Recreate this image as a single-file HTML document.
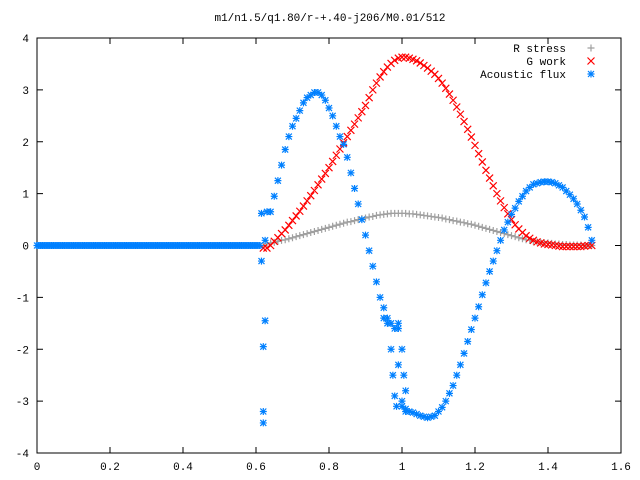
<!DOCTYPE html>
<html><head><meta charset="utf-8"><style>
body{margin:0;background:#fff}
svg{display:block}
text{font-family:"Liberation Mono",monospace;font-size:11px;fill:#000}
</style></head><body>
<svg id="chart" width="640" height="480" viewBox="0 0 640 480" xmlns="http://www.w3.org/2000/svg">
<text x="330" y="21" text-anchor="middle">m1/n1.5/q1.80/r-+.40-j206/M0.01/512</text>
<g id="axes"></g>
<g id="marks"></g>
<g id="legend"></g>
</svg>
<script>
const xTicks=[0,0.2,0.4,0.6,0.8,1,1.2,1.4,1.6];
const xTickLabels=["0","0.2","0.4","0.6","0.8","1","1.2","1.4","1.6"];
const yTicks=[-4,-3,-2,-1,0,1,2,3,4];
const yTickLabels=["-4","-3","-2","-1","0","1","2","3","4"];
const xValues=Array.from({length:91},(_,i)=>+(0.62+i*0.01).toFixed(2));
const rStress=[0,0.03,0.05,0.06,0.08,0.10,0.11,0.13,0.15,0.17,
0.19,0.21,0.23,0.25,0.27,0.29,0.31,0.33,0.35,0.37,
0.39,0.41,0.43,0.45,0.46,0.48,0.50,0.52,0.53,0.55,
0.56,0.58,0.59,0.60,0.61,0.62,0.62,0.62,0.62,0.62,
0.61,0.61,0.60,0.59,0.58,0.57,0.56,0.55,0.54,0.53,
0.51,0.50,0.48,0.47,0.45,0.44,0.42,0.41,0.39,0.37,
0.35,0.33,0.31,0.29,0.27,0.25,0.23,0.21,0.19,0.17,
0.15,0.13,0.11,0.10,0.08,0.07,0.06,0.05,0.05,0.04,
0.03,0.03,0.02,0.02,0.01,0.01,0.01,0.01,0,0,0];
const gWork=[-0.05,-0.05,0.0,0.08,0.15,0.23,0.3,0.39,0.48,0.57,
0.66,0.76,0.86,0.96,1.06,1.17,1.28,1.39,1.5,1.62,
1.74,1.86,1.98,2.1,2.22,2.34,2.46,2.58,2.7,2.85,
3.0,3.13,3.25,3.35,3.44,3.51,3.57,3.61,3.63,3.63,3.61,
3.59,3.56,3.52,3.47,3.42,3.36,3.3,3.22,3.13,3.03,
2.92,2.8,2.67,2.53,2.39,2.24,2.09,1.93,1.77,1.61,
1.45,1.3,1.15,1.0,0.86,0.73,0.61,0.5,0.4,0.32,
0.25,0.19,0.14,0.1,0.07,0.05,0.03,0.02,
0.01,0,-0.01,-0.02,-0.02,-0.02,-0.02,-0.02,-0.02,-0.01,0,0];
const fluxX=Array.from({length:89},(_,i)=>+(0.64+i*0.01).toFixed(2));
const acousticFlux=[0.65,0.95,1.25,1.55,1.85,2.1,2.3,2.45,2.6,2.75,
2.85,2.9,2.95,2.95,2.9,2.8,2.65,2.5,2.3,2.1,
1.95,1.7,1.4,1.1,0.8,0.5,0.2,-0.1,-0.4,-0.7,
-1.0,-1.2,-1.4,-1.5,-1.6,-2.3,-3.1,-3.15,-3.2,-3.22,
-3.25,-3.28,-3.3,-3.32,-3.3,-3.28,-3.2,-3.12,-3.0,-2.85,
-2.7,-2.5,-2.3,-2.08,-1.85,-1.62,-1.4,-1.18,-0.95,-0.72,
-0.5,-0.3,-0.1,0.1,0.3,0.45,0.6,0.72,0.85,0.95,
1.05,1.12,1.18,1.2,1.22,1.23,1.23,1.22,1.2,1.16,
1.12,1.05,0.98,0.9,0.8,0.68,0.55,0.35,0.1];
const fluxExtraX=[0.615,0.62,0.625,0.62,0.62,0.615,0.63,0.625,0.95,0.96,0.97,0.975,0.98,0.985,0.99,1.0,1.005,1.01,1.0,0.99,1.01];
const fluxExtraY=[-0.3,-1.95,-1.45,-3.2,-3.42,0.62,0.65,0.1,-1.4,-1.5,-2.0,-2.5,-2.9,-3.1,-1.6,-2.0,-2.5,-2.8,-3.0,-1.5,-3.2];
const zeroFluxX=[];for(let i=0;i<=122;i++)zeroFluxX.push(i*0.005);

const L=37,R=621,T=38,B=453;
const sx=v=>L+(v-0)/1.6*(R-L);
const sy=v=>B-(v+4)/8*(B-T);
const NS="http://www.w3.org/2000/svg";
function mk(tag,attrs,parent){const e=document.createElementNS(NS,tag);for(const k in attrs)e.setAttribute(k,attrs[k]);parent.appendChild(e);return e;}
const axes=document.getElementById('axes'),marks=document.getElementById('marks'),leg=document.getElementById('legend');
const frame=mk('rect',{x:L,y:T,width:R-L,height:B-T,fill:'none',stroke:'#000','stroke-width':1},axes);


xTicks.forEach((t,i)=>{const x=sx(t);
 mk('line',{x1:x,y1:B,x2:x,y2:B-6,stroke:'#000'},axes);
 mk('line',{x1:x,y1:T,x2:x,y2:T+6,stroke:'#000'},axes);
 const tx=mk('text',{x:x,y:B+17,'text-anchor':'middle'},axes);tx.textContent=xTickLabels[i];
 
 });
yTicks.forEach((t,i)=>{const y=sy(t);
 mk('line',{x1:L,y1:y,x2:L+6,y2:y,stroke:'#000'},axes);
 mk('line',{x1:R,y1:y,x2:R-6,y2:y,stroke:'#000'},axes);
 const tx=mk('text',{x:L-8,y:y+4,'text-anchor':'end'},axes);tx.textContent=yTickLabels[i];
 
 });
function plus(g,x,y,c){mk('path',{d:`M${x-3.5} ${y}H${x+3.5}M${x} ${y-3.5}V${y+3.5}`,stroke:c,'stroke-width':1.2,fill:'none'},g);}
function cross(g,x,y,c){mk('path',{d:`M${x-3.5} ${y-3.5}L${x+3.5} ${y+3.5}M${x-3.5} ${y+3.5}L${x+3.5} ${y-3.5}`,stroke:c,'stroke-width':1.2,fill:'none'},g);}
function star(g,x,y,c){mk('path',{d:`M${x-3.5} ${y}H${x+3.5}M${x} ${y-3.5}V${y+3.5}M${x-3} ${y-3}L${x+3} ${y+3}M${x-3} ${y+3}L${x+3} ${y-3}`,stroke:c,'stroke-width':1.2,fill:'none'},g);}
const gR=mk('g',{},marks);
const gG=mk('g',{},marks);
const gA=mk('g',{},marks);
const nR=Math.min(xValues.length,rStress.length),nG=Math.min(xValues.length,gWork.length),nA=Math.min(fluxX.length,acousticFlux.length);
for(let i=0;i<nR;i++)plus(gR,sx(xValues[i]),sy(rStress[i]),'#a0a0a0');
for(let i=0;i<nG;i++)cross(gG,sx(xValues[i]),sy(gWork[i]),'#ff0000');
zeroFluxX.forEach(x=>star(gA,sx(x),sy(0),'#0080ff'));
for(let i=0;i<nA;i++)star(gA,sx(fluxX[i]),sy(acousticFlux[i]),'#0080ff');
fluxExtraX.forEach((x,i)=>star(gA,sx(x),sy(fluxExtraY[i]),'#0080ff'));
const legItems=[["R stress",'#a0a0a0',plus,'legend-r-stress'],["G work",'#ff0000',cross,'legend-g-work'],["Acoustic flux",'#0080ff',star,'legend-acoustic-flux']];
legItems.forEach((it,i)=>{const y=48+i*13;
 const g=mk('g',{},leg);
 
 
 const t=mk('text',{x:566,y:y+4,'text-anchor':'end'},g);t.textContent=it[0];
 it[2](g,591,y,it[1]);});
</script>
</body></html>
